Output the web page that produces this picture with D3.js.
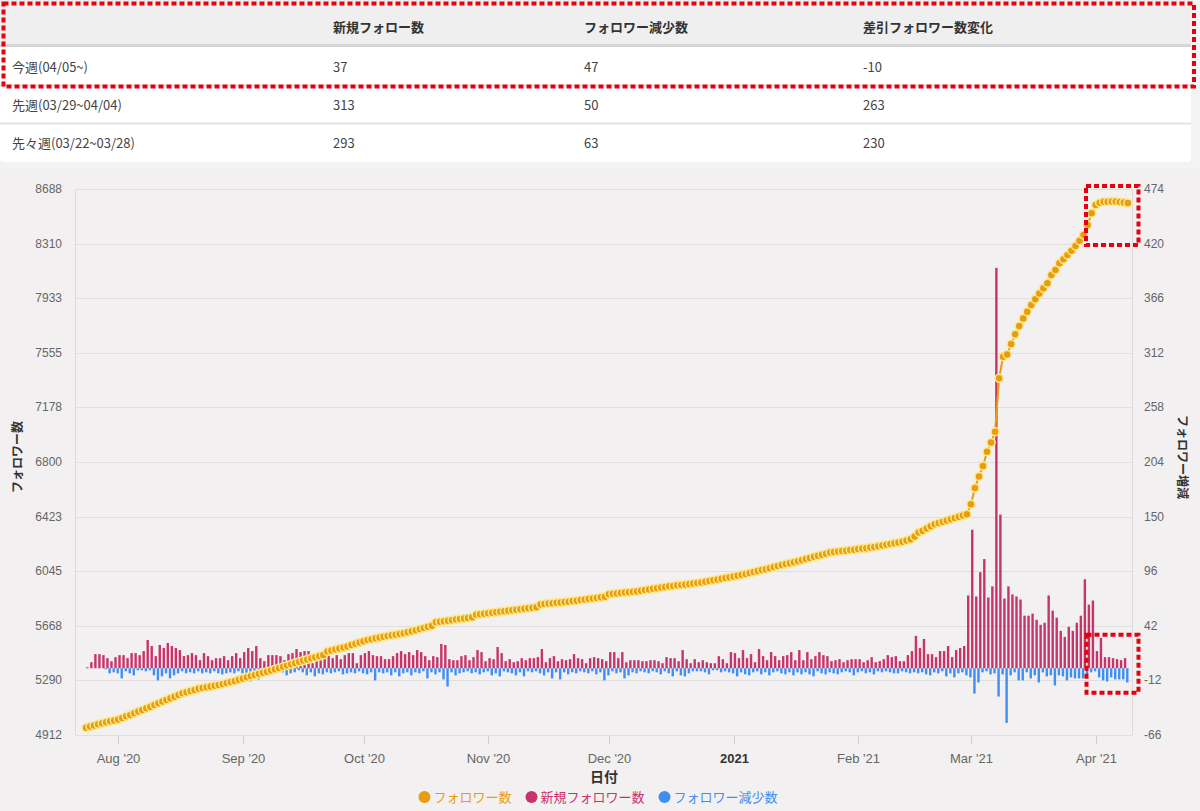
<!DOCTYPE html>
<html><head><meta charset="utf-8">
<script src="https://cdn.jsdelivr.net/npm/d3@7"></script>
<style>
html,body{margin:0;padding:0;background:#f3f3f3;}
svg{display:block;font-family:"Liberation Sans","Noto Sans CJK JP",Arial,sans-serif;}
.jp{font-family:"Noto Sans CJK JP","Liberation Sans",sans-serif;}
</style></head><body>
<svg id="c" width="1200" height="811"></svg>
<script>
// ---------- table data ----------
const tableHeaders = ["", "新規フォロー数", "フォロワー減少数", "差引フォロワー数変化"];
const weekLabels = ["今週(04/05~)", "先週(03/29~04/04)", "先々週(03/22~03/28)"];
const weekNew = [37, 313, 293];
const weekLost = [47, 50, 63];
const weekNet = [-10, 263, 230];

// ---------- chart data (daily, starting 2020-07-24) ----------
const startDate = "2020-07-24";
const followers = [
4962,4970,4978,4986,4993,5000,5007,5013,5020,5030,
5041,5051,5062,5074,5085,5097,5108,5120,5131,5143,
5154,5166,5177,5189,5200,5208,5216,5224,5232,5237,
5243,5248,5253,5258,5265,5272,5278,5285,5294,5302,
5311,5320,5327,5335,5342,5350,5358,5367,5375,5384,
5393,5401,5410,5419,5427,5435,5443,5450,5458,5466,
5490,5497,5503,5510,5517,5524,5534,5543,5551,5560,
5569,5575,5581,5586,5592,5597,5601,5606,5610,5615,
5622,5630,5637,5645,5652,5660,5668,5691,5695,5699,
5702,5706,5710,5714,5717,5721,5726,5744,5747,5751,
5754,5757,5761,5764,5767,5771,5774,5778,5781,5785,
5788,5792,5795,5815,5818,5821,5824,5826,5829,5831,
5834,5838,5841,5845,5849,5853,5856,5860,5864,5868,
5885,5888,5891,5894,5897,5900,5902,5905,5909,5914,
5918,5923,5927,5932,5936,5940,5943,5947,5950,5953,
5957,5960,5963,5967,5972,5977,5982,5987,5993,5998,
6003,6008,6013,6020,6026,6033,6040,6046,6053,6059,
6066,6073,6080,6087,6094,6100,6107,6114,6121,6129,
6136,6144,6151,6159,6166,6174,6177,6181,6184,6187,
6191,6194,6198,6201,6204,6208,6213,6218,6223,6228,
6233,6238,6243,6248,6257,6266,6285,6312,6325,6340,
6355,6370,6378,6387,6396,6404,6413,6422,6430,6439,
6508,6620,6700,6772,6871,6934,7010,7379,7528,7544,
7616,7683,7740,7793,7839,7886,7925,7966,8001,8036,
8093,8128,8174,8202,8232,8261,8294,8330,8370,8439,
8520,8577,8593,8600,8600,8602,8601,8598,8595,8591
];
const newFollows = [
1,6,14,14,13,10,7,11,13,13,
10,15,15,13,17,28,22,12,23,20,
25,22,20,18,12,13,15,13,8,15,
12,8,10,10,12,8,12,15,10,16,
20,17,22,10,7,13,13,13,12,8,
14,15,19,16,17,17,5,8,10,10,
12,10,13,9,13,15,15,5,13,15,
17,13,12,12,9,9,
12,15,17,14,16,13,18,16,12,8,
12,11,24,23,9,8,8,12,13,8,
11,18,16,7,10,9,21,15,7,9,
6,7,10,8,10,10,11,19,6,10,
12,7,9,8,9,14,10,9,5,10,
11,10,9,7,16,16,10,16,6,8,
8,8,7,7,8,8,7,5,11,10,
10,7,
18,9,5,9,6,8,6,5,5,12,
9,5,16,15,10,18,10,14,6,19,
12,8,16,12,8,12,13,16,8,18,
8,16,9,12,16,13,12,7,8,9,
6,8,9,9,9,6,8,11,6,7,
9,13,11,12,7,7,13,17,32,20,
29,14,14,11,17,17,22,11,18,20,
22,72,
137,71,95,108,70,81,396,152,69,81,
73,71,68,52,52,54,48,43,45,72,
57,50,37,31,41,37,45,52,
88,63,67,17,30,11,11,
10,9,8,10
];
const lostFollows = [
0,0,0,0,1,5,4,5,10,3,
5,7,2,2,3,2,7,12,8,5,
10,7,5,3,5,4,5,3,5,4,
5,3,5,6,5,4,5,3,5,6,
13,3,11,3,4,2,3,3,4,7,
5,4,2,4,7,4,8,5,6,4,
5,4,3,6,5,4,5,3,5,6,
4,12,4,5,4,7,
4,8,5,4,7,4,5,3,10,4,
6,4,11,18,4,7,5,4,3,5,
4,6,4,3,7,5,8,3,4,5,
7,4,8,3,4,3,5,7,4,10,
4,11,4,6,4,5,3,4,5,3,
6,4,12,7,3,5,4,10,7,4,
5,3,4,5,3,4,6,3,5,8,
3,7,
8,5,3,3,3,4,6,2,2,4,
3,4,5,8,4,6,7,4,3,6,
4,7,4,3,5,6,4,7,4,6,
4,6,8,3,5,6,4,5,6,4,
3,4,7,4,3,5,4,6,3,4,
3,4,5,5,3,4,5,4,5,4,
6,7,4,5,3,8,5,9,5,4,
7,9,
25,14,4,3,6,5,28,6,54,7,
4,12,12,4,10,7,14,4,8,7,
17,7,8,12,9,10,10,10,
6,4,3,9,12,13,9,
11,11,11,14
];
const leftTicks = [4912,5290,5668,6045,6423,6800,7178,7555,7933,8310,8688];
const rightTicks = [-66,-12,42,96,150,204,258,312,366,420,474];
const monthTicks = ["2020-08-01","2020-09-01","2020-10-01","2020-11-01","2020-12-01","2021-01-01","2021-02-01","2021-03-01","2021-04-01"];
const monthLabels = ["Aug '20","Sep '20","Oct '20","Nov '20","Dec '20","2021","Feb '21","Mar '21","Apr '21"];
const seriesNames = ["フォロワー数","新規フォロワー数","フォロワー減少数"];
const axisTitles = {left:"フォロワー数", right:"フォロワー増減", x:"日付"};

// ---------- styles ----------
const C_ORANGE = "#e89c10", C_PINK = "#c8346a", C_BLUE = "#3f8ef2";
const DAY = 86400000;
const t0 = Date.parse(startDate + "T00:00:00Z");
const dateOf = i => new Date(t0 + i * DAY);

const svg = d3.select("#c");
svg.append("rect").attr("width",1200).attr("height",811).attr("fill","#f3f3f3");

// ---------- table ----------
const tbl = svg.append("g");
tbl.append("rect").attr("x",0).attr("y",0).attr("width",1191).attr("height",162).attr("rx",4).attr("fill","#ffffff");
tbl.append("rect").attr("x",0).attr("y",0).attr("width",1191).attr("height",44).attr("fill","#efefef");
tbl.append("line").attr("x1",0).attr("x2",1191).attr("y1",45.5).attr("y2",45.5).attr("stroke","#d6d6d6").attr("stroke-width",3);
[85.5,123.5].forEach(y=>tbl.append("line").attr("x1",0).attr("x2",1191).attr("y1",y).attr("y2",y).attr("stroke","#e4e4e4").attr("stroke-width",2));
const colX = [12,333,584,863];
tableHeaders.forEach((h,i)=>{
  tbl.append("text").attr("class","jp").attr("x",colX[i]).attr("y",32).attr("font-size",13).attr("font-weight","bold").attr("fill","#333").text(h);
});
weekLabels.forEach((w,r)=>{
  const y = 72 + r*38;
  const vals = [w, weekNew[r], weekLost[r], weekNet[r]];
  vals.forEach((v,i)=>{
    tbl.append("text").attr("class","jp").attr("x",colX[i]).attr("y",y).attr("font-size",13).attr("fill","#444").text(v);
  });
});

// ---------- chart ----------
svg.append("rect").attr("x",0).attr("y",169).attr("width",1200).attr("height",642).attr("fill","#f2f0f0");

const pL = 76, pR = 1132, pT = 189, pB = 735;
const x = d3.scaleUtc().domain([new Date(Date.UTC(2020,6,21,12)), new Date(Date.UTC(2021,3,10,1))]).range([pL,pR]);
const yL = d3.scaleLinear().domain([leftTicks[0], leftTicks[leftTicks.length-1]]).range([pB,pT]);
const yR = d3.scaleLinear().domain([rightTicks[0], rightTicks[rightTicks.length-1]]).range([pB,pT]);

const g = svg.append("g");
// gridlines
g.selectAll("line.grid").data(leftTicks).join("line").attr("class","grid")
  .attr("x1",pL).attr("x2",pR).attr("y1",d=>Math.round(yL(d))+0.5).attr("y2",d=>Math.round(yL(d))+0.5)
  .attr("stroke","#e0dede").attr("stroke-width",1);
// axis lines
[pL-0.5,pR+0.5].forEach(xx=>g.append("line").attr("x1",xx).attr("x2",xx).attr("y1",pT).attr("y2",pB).attr("stroke","#dcdada"));
// y labels
g.selectAll("text.yl").data(leftTicks).join("text").attr("class","yl")
  .attr("x",62).attr("y",d=>yL(d)+4).attr("text-anchor","end").attr("font-size",12).attr("fill","#666").text(d=>d);
g.selectAll("text.yr").data(rightTicks).join("text").attr("class","yr")
  .attr("x",1144).attr("y",d=>yR(d)+4).attr("text-anchor","start").attr("font-size",12).attr("fill","#666").text(d=>d);
// x ticks
monthTicks.forEach((m,i)=>{
  const xx = Math.round(x(new Date(m+"T00:00:00Z")))+0.5;
  g.append("line").attr("x1",xx).attr("x2",xx).attr("y1",pB).attr("y2",pB+9).attr("stroke","#d0cece");
  const isYear = monthLabels[i] === "2021";
  g.append("text").attr("x",xx).attr("y",763).attr("text-anchor","middle").attr("font-size",13)
    .attr("font-weight",isYear?"bold":"normal").attr("fill",isYear?"#333":"#666").text(monthLabels[i]);
});

// axis titles
svg.append("text").attr("class","jp").attr("transform","translate(22,457) rotate(-90)").attr("text-anchor","middle")
  .attr("font-size",12).attr("font-weight","bold").attr("fill","#333").text(axisTitles.left);
svg.append("text").attr("class","jp").attr("transform","translate(1178,457) rotate(90)").attr("text-anchor","middle")
  .attr("font-size",12).attr("font-weight","bold").attr("fill","#333").text(axisTitles.right);
svg.append("text").attr("class","jp").attr("x",(pL+pR)/2).attr("y",782).attr("text-anchor","middle")
  .attr("font-size",14).attr("font-weight","bold").attr("fill","#333").text(axisTitles.x);

// bars
const bw = 2.4;
g.selectAll("rect.pink").data(newFollows).join("rect").attr("class","pink")
  .attr("x",(d,i)=>x(dateOf(i))+0.1).attr("width",bw)
  .attr("y",d=>yR(d)).attr("height",d=>Math.max(0,yR(0)-yR(d))).attr("fill",C_PINK);
g.selectAll("rect.blue").data(lostFollows).join("rect").attr("class","blue")
  .attr("x",(d,i)=>x(dateOf(i))+2.3).attr("width",bw)
  .attr("y",yR(0)).attr("height",d=>Math.max(0,yR(-d)-yR(0))).attr("fill",C_BLUE);

// follower line
const line = d3.line().x((d,i)=>x(dateOf(i))).y(d=>yL(d));
g.append("path").datum(followers).attr("d",line).attr("fill","none").attr("stroke",C_ORANGE).attr("stroke-width",2);
g.selectAll("circle.pt").data(followers).join("circle").attr("class","pt")
  .attr("cx",(d,i)=>x(dateOf(i))).attr("cy",d=>yL(d)).attr("r",4)
  .attr("fill",C_ORANGE).attr("stroke","#fde98c").attr("stroke-width",1.5);

// legend
const leg = svg.append("g");
const colors = [C_ORANGE, C_PINK, C_BLUE];
const items = [];
seriesNames.forEach((n,i)=>{
  const it = leg.append("g");
  it.append("circle").attr("cx",6).attr("cy",0).attr("r",6).attr("fill",colors[i]);
  const t = it.append("text").attr("class","jp").attr("x",15).attr("y",5).attr("font-size",13).attr("fill",colors[i]).text(n);
  const w = 15 + t.node().getComputedTextLength();
  items.push({it,w});
});
const gap = 14;
const total = items.reduce((s,o)=>s+o.w,0) + gap*(items.length-1);
let lx = 598 - total/2;
items.forEach(o=>{ o.it.attr("transform",`translate(${lx},797)`); lx += o.w + gap; });

// red dotted annotation boxes
const boxes = [[3.5,3.5,1190.5,83],[1086,186,52.5,59],[1086.5,634.7,52,58]];
boxes.forEach(b=>svg.append("rect").attr("x",b[0]).attr("y",b[1]).attr("width",b[2]).attr("height",b[3])
  .attr("fill","none").attr("stroke","#e3000f").attr("stroke-width",4).attr("stroke-dasharray","5,3"));
</script>
</body></html>
